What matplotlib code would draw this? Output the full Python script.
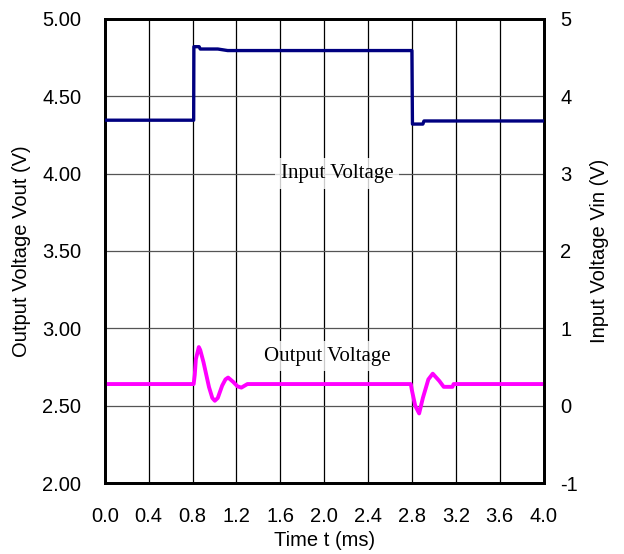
import matplotlib
matplotlib.use("Agg")
import matplotlib.pyplot as plt
from matplotlib.ticker import FormatStrFormatter

# output voltage (left axis, V) vs time (ms)
vout_t = [0.0, 0.81, 0.82, 0.83, 0.857, 0.87, 0.90, 0.95, 0.98, 1.003, 1.03, 1.07,
          1.10, 1.124, 1.17, 1.21, 1.245, 1.30, 2.79, 2.80, 2.83, 2.866, 2.90,
          2.95, 2.99, 3.05, 3.09, 3.17, 3.18, 4.0]
vout_v = [2.64, 2.64, 2.70, 2.80, 2.879, 2.86, 2.78, 2.62, 2.55, 2.532, 2.55, 2.63,
          2.67, 2.682, 2.654, 2.625, 2.617, 2.64, 2.64, 2.60, 2.50, 2.45, 2.55,
          2.67, 2.707, 2.66, 2.622, 2.622, 2.64, 2.64]

# input voltage (right axis, V) vs time (ms)
vin_t = [0.0, 0.81, 0.812, 0.86, 0.87, 1.03, 1.12, 2.80, 2.805, 2.90, 2.91, 4.0]
vin_v = [3.69, 3.69, 4.64, 4.64, 4.61, 4.61, 4.59, 4.59, 3.64, 3.64, 3.68, 3.68]

x_ticks = [0.0, 0.4, 0.8, 1.2, 1.6, 2.0, 2.4, 2.8, 3.2, 3.6, 4.0]
left_ticks = [2.0, 2.5, 3.0, 3.5, 4.0, 4.5, 5.0]
right_ticks = [-1, 0, 1, 2, 3, 4, 5]

plt.rcParams["font.family"] = ["Liberation Sans", "DejaVu Sans"]
plt.rcParams["axes.unicode_minus"] = False

fig = plt.figure(figsize=(6.24, 5.54), dpi=100)
ax = fig.add_axes([0.168, 0.128, 0.703, 0.838])
ax2 = ax.twinx()

ax.set_xlim(0, 4.0)
ax.set_ylim(2.0, 5.0)
ax2.set_ylim(-1, 5)

ax.set_xticks(x_ticks)
ax.xaxis.set_major_formatter(FormatStrFormatter("%.1f"))
ax.set_yticks(left_ticks)
ax.yaxis.set_major_formatter(FormatStrFormatter("%.2f"))
ax2.set_yticks(right_ticks)

ax.grid(True, axis="x", color="black", linewidth=0.9, zorder=0)
ax.grid(True, axis="y", color="#555555", linewidth=0.9, zorder=0)
ax.tick_params(axis="x", length=0, labelsize=14.5, pad=17)
ax.tick_params(axis="y", length=0, labelsize=14.5, pad=17)
ax2.tick_params(length=0, labelsize=14.5, pad=12)

for a in (ax, ax2):
    for sp in a.spines.values():
        sp.set_linewidth(2)
        sp.set_color("black")

ax.plot(vout_t, vout_v, color="#FF00FF", linewidth=2.8, zorder=3)
ax2.plot(vin_t, vin_v, color="#000080", linewidth=2.4, zorder=3)

box = dict(facecolor="white", edgecolor="none", alpha=0.8, pad=4)
ax.text(2.12, 4.0, "Input Voltage", family="Liberation Serif", fontsize=15,
        ha="center", va="center", bbox=box, zorder=2)
ax.text(2.03, 2.82, "Output Voltage", family="Liberation Serif", fontsize=15,
        ha="center", va="center", bbox=box, zorder=2)

ax.set_xlabel("Time t (ms)", fontsize=14.5, labelpad=4)
ax.set_ylabel("Output Voltage Vout (V)", fontsize=14.5, labelpad=8)
ax2.set_ylabel("Input Voltage Vin (V)", fontsize=14.5, labelpad=9)

fig.savefig("out.png", dpi=100)
